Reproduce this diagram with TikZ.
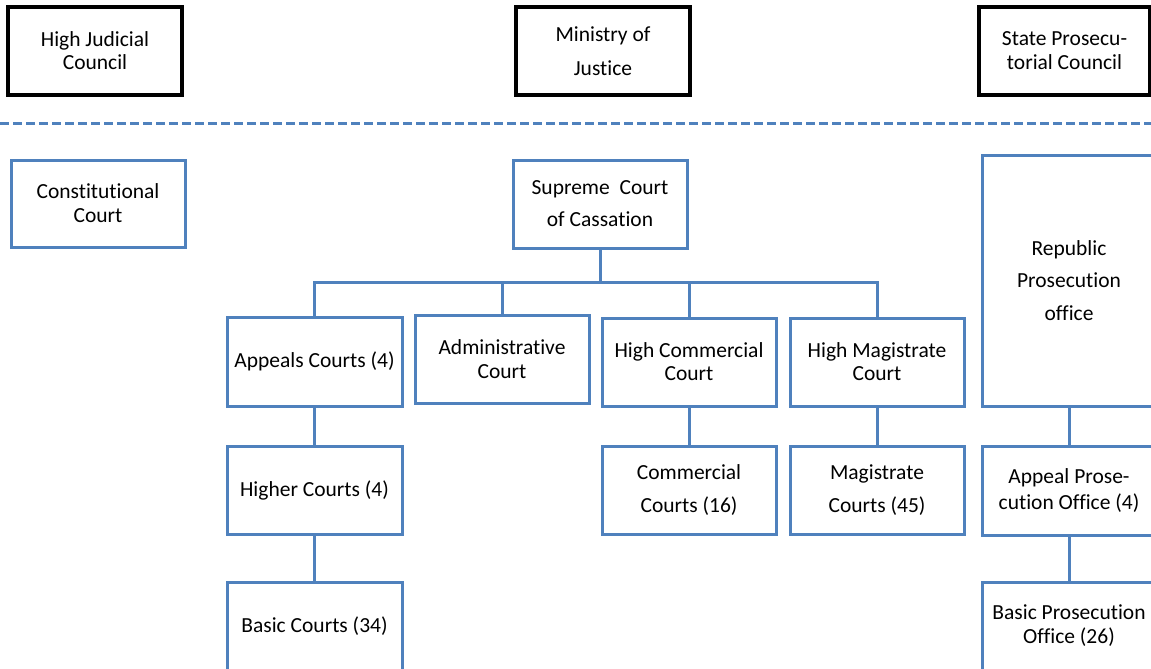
\documentclass[tikz,border=0pt]{standalone}
\usepackage{fontspec}
\setmainfont{Carlito}[Ligatures=NoCommon]
\definecolor{ofblue}{HTML}{4F81BD}
\tikzset{
  box/.style={draw=ofblue, line width=3pt, fill=white, inner sep=0pt, align=center,
    minimum width=174pt, minimum height=88pt, text=black},
  topbox/.style={box, draw=black, line width=3.5pt},
  link/.style={draw=ofblue, line width=3pt},
  fs/.style={font=\fontsize{21.5}{#1}\selectfont}
}
\begin{document}
\begin{tikzpicture}[x=1pt,y=-1pt]
\clip (0,0) rectangle (1151,669);
\fill[white] (0,0) rectangle (1151,669);
% top row
\node[topbox, fs=23] (hjc) at (95,51) {High Judicial\\Council};
\node[topbox, fs=34] (moj) at (603,51) {Ministry of\\Justice};
\node[topbox, fs=24, minimum width=171pt] (spc) at (1064.5,51) {State Prosecu-\\torial Council};
% dashed separator
\coordinate (dl) at (0,123);
\coordinate (dr) at (1151,123);
\draw[ofblue, line width=3pt, dash pattern=on 9pt off 4pt] (dl) -- (dr);
% second level
\node[box, fs=24, minimum height=87pt] (cc) at (98,203.5) {Constitutional\\Court};
\node[box, fs=32] (scc) at (600,204) {Supreme\ \ Court\\of Cassation};
\node[box, fs=32.5, minimum height=251pt] (rpo) at (1069,280.5) {Republic\\Prosecution\\office};
% third level
\node[box, fs=24, minimum width=175pt, minimum height=89pt] (app) at (314.5,361.5) {Appeals Courts (4)};
\node[box, fs=24] (adm) at (502,359.5) {Administrative\\Court};
\node[box, fs=23] (hcc) at (689,362) {High Commercial\\Court};
\node[box, fs=23] (hmc) at (877,362) {High Magistrate\\Court};
% fourth level
\node[box, fs=24, minimum width=175pt] (hic) at (314.5,490.5) {Higher Courts (4)};
\node[box, fs=33] (cmc) at (689,490) {Commercial\\Courts (16)};
\node[box, fs=33] (mgc) at (877,490) {Magistrate\\Courts (45)};
\node[box, fs=26, minimum height=89pt] (apo) at (1069,490.5) {Appeal Prose-\\cution Office (4)};
% fifth level
\node[box, fs=24, minimum width=175pt] (bas) at (314.5,626) {Basic Courts (34)};
\node[box, fs=24] (bpo) at (1069,626) {Basic Prosecution\\Office (26)};
% connectors
\coordinate (bar) at (0,282);
\draw[link] (scc.south) -- (scc.south |- bar);
\draw[link] (app.north) -- (app.north |- bar) -- (hmc.north |- bar) -- (hmc.north);
\draw[link] (adm.north) -- (adm.north |- bar);
\draw[link] (hcc.north) -- (hcc.north |- bar);
\draw[link] (app) -- (hic);
\draw[link] (hic) -- (bas);
\draw[link] (hcc) -- (cmc);
\draw[link] (hmc) -- (mgc);
\draw[link] (rpo) -- (apo);
\draw[link] (apo) -- (bpo);
\end{tikzpicture}
\end{document}
